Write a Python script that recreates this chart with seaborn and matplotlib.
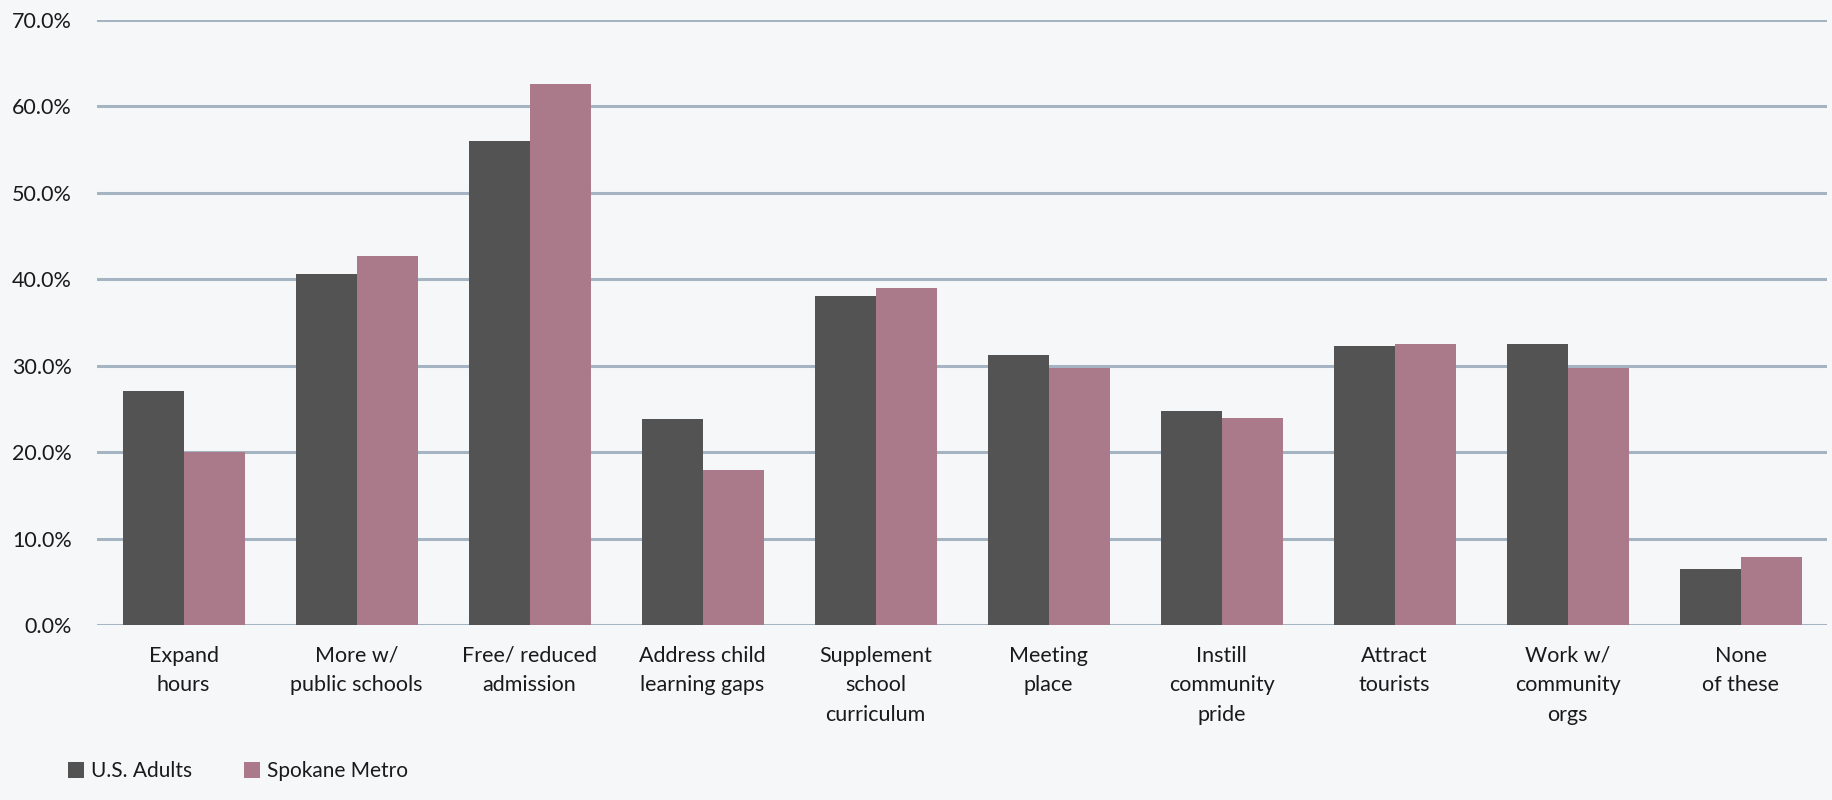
import matplotlib
matplotlib.use("Agg")
import matplotlib.pyplot as plt
import matplotlib.patches as mpatches
from matplotlib.ticker import PercentFormatter
import seaborn as sns
import pandas as pd

# Survey responses: share of respondents choosing each option
categories = [
    "Expand\nhours",
    "More w/\npublic schools",
    "Free/ reduced\nadmission",
    "Address child\nlearning gaps",
    "Supplement\nschool\ncurriculum",
    "Meeting\nplace",
    "Instill\ncommunity\npride",
    "Attract\ntourists",
    "Work w/\ncommunity\norgs",
    "None\nof these",
]
us_adults = [27.1, 40.6, 56.0, 23.8, 38.1, 31.2, 24.8, 32.3, 32.5, 6.5]
spokane_metro = [20.0, 42.7, 62.6, 17.9, 39.0, 29.7, 24.0, 32.5, 29.7, 7.9]
series_names = ["U.S. Adults", "Spokane Metro"]
y_ticks = [0, 10, 20, 30, 40, 50, 60, 70]

colors = ["#535353", "#aa7a8b"]
bg = "#f6f7f9"
grid_color = "#a4b4c2"

df = pd.DataFrame({
    "category": categories * 2,
    "value": us_adults + spokane_metro,
    "series": [series_names[0]] * len(categories) + [series_names[1]] * len(categories),
})

sns.set_theme(style="white")
plt.rcParams["font.family"] = ["Lato", "DejaVu Sans"]

fig = plt.figure(figsize=(18.32, 8), dpi=100, facecolor=bg)
ax = fig.add_axes([0.053, 0.21875, 0.9443, 0.75625])
ax.set_facecolor(bg)

sns.barplot(data=df, x="category", y="value", hue="series", order=categories,
            hue_order=series_names, palette=colors, width=0.705, saturation=1,
            linewidth=0, legend=False, ax=ax, zorder=3)

ax.set_ylim(0, 70)
ax.set_xlim(-0.5, len(categories) - 0.5)
ax.set_yticks(y_ticks)
ax.yaxis.set_major_formatter(PercentFormatter(decimals=1))
for y in y_ticks:
    ax.axhline(y, color=grid_color, lw=2.2, zorder=1)

ax.set_xlabel("")
ax.set_ylabel("")
for s in ax.spines.values():
    s.set_visible(False)
ax.tick_params(axis="y", length=0, pad=18, labelsize=15.5, labelcolor="#1a1a1a")
ax.tick_params(axis="x", length=0, pad=15, labelsize=15.5, labelcolor="#1a1a1a")
ax.set_xticks(range(len(categories)))
ax.set_xticklabels(categories, linespacing=1.6, verticalalignment="top")

handles = [mpatches.Patch(facecolor=c, edgecolor="none", label=n)
           for c, n in zip(colors, series_names)]
fig.legend(handles=handles, loc="lower left", bbox_to_anchor=(0.027, 0.0),
           ncol=2, frameon=False, fontsize=15, handlelength=0.75,
           handleheight=0.75, handletextpad=0.35, columnspacing=2.5,
           labelcolor="#1a1a1a")

fig.savefig("out.png", dpi=100, facecolor=bg)
